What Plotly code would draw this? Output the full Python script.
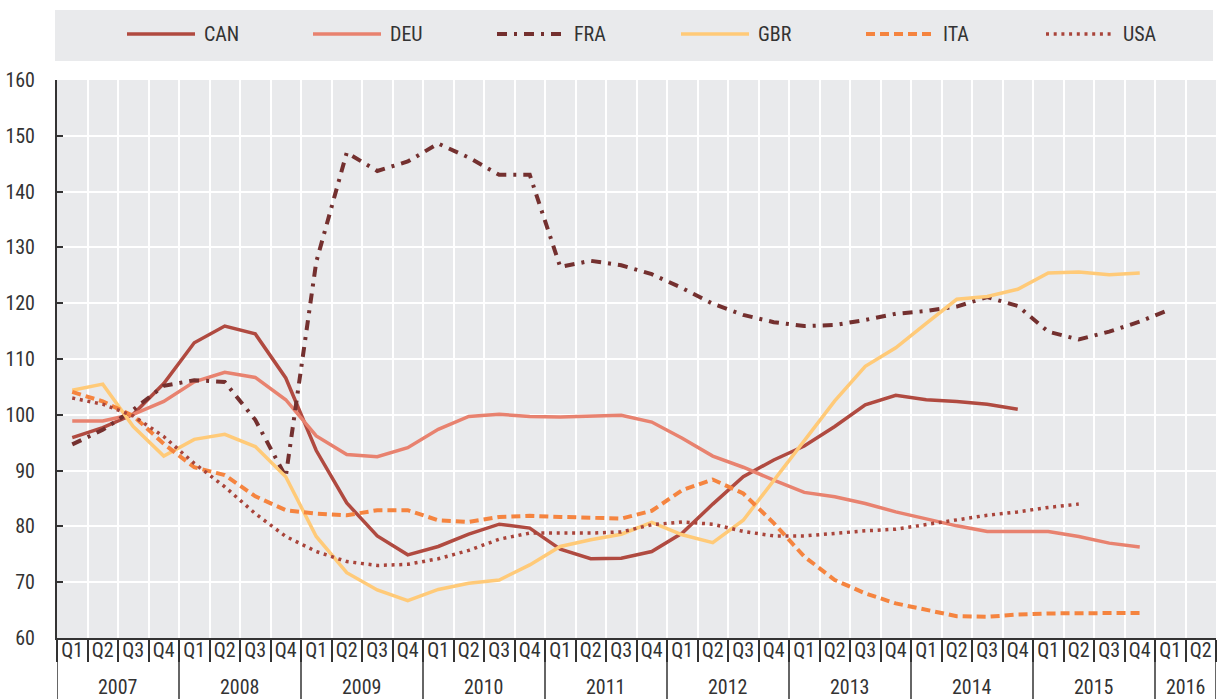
import plotly.graph_objects as go

# ---- data ----
quarters = ["Q1", "Q2", "Q3", "Q4"] * 9 + ["Q1", "Q2"]
years = ["2007", "2008", "2009", "2010", "2011", "2012", "2013", "2014", "2015", "2016"]

can = [95.9, 97.7, 100.1, 105.6,
       112.9, 115.9, 114.5, 106.6,
       93.6, 84.2, 78.3, 74.9,
       76.4, 78.6, 80.4, 79.7,
       75.9, 74.2, 74.3, 75.5,
       78.8, 84.0, 88.9, 91.9,
       94.4, 97.9, 101.8, 103.5,
       102.7, 102.4, 101.9, 101.0,
       None, None, None, None, None, None]
deu = [98.9, 98.9, 100.1, 102.4,
       105.9, 107.6, 106.7, 102.7,
       96.2, 92.9, 92.5, 94.1,
       97.4, 99.7, 100.1, 99.7,
       99.6, 99.8, 99.9, 98.7,
       95.8, 92.6, 90.6, 88.3,
       86.1, 85.3, 84.1, 82.6,
       81.4, 80.1, 79.1, 79.1,
       79.1, 78.2, 77.0, 76.3,
       None, None]
fra = [94.7, 97.3, 100.9, 105.2,
       106.2, 105.9, 99.1, 88.9,
       127.4, 147.0, 143.7, 145.4,
       148.6, 146.1, 143.0, 143.0,
       126.5, 127.6, 126.8, 125.2,
       122.7, 119.9, 117.9, 116.6,
       115.9, 116.1, 117.0, 118.1,
       118.6, 119.4, 121.1, 119.5,
       114.9, 113.5, 114.9, 116.7,
       118.9, None]
gbr = [104.4, 105.5, 97.9, 92.6,
       95.6, 96.5, 94.3, 88.9,
       78.2, 71.7, 68.6, 66.7,
       68.7, 69.8, 70.4, 73.1,
       76.4, 77.6, 78.6, 80.7,
       78.5, 77.1, 81.1, 88.3,
       95.5, 102.5, 108.7, 112.0,
       116.4, 120.7, 121.2, 122.5,
       125.4, 125.6, 125.1, 125.4,
       None, None]
ita = [104.1, 102.4, 99.8, 94.8,
       90.6, 89.2, 85.4, 82.9,
       82.3, 82.0, 82.9, 82.9,
       81.1, 80.8, 81.7, 81.9,
       81.7, 81.6, 81.4, 82.8,
       86.5, 88.4, 85.9, 80.6,
       74.6, 70.4, 68.0, 66.2,
       65.1, 63.9, 63.8, 64.2,
       64.4, 64.4, 64.4, 64.5,
       None, None]
usa = [103.0, 101.9, 99.8, 96.1,
       91.3, 87.1, 82.3, 78.2,
       75.5, 73.7, 73.0, 73.2,
       74.2, 75.7, 77.7, 78.8,
       78.8, 78.8, 79.0, 80.3,
       80.8, 80.4, 79.1, 78.3,
       78.3, 78.8, 79.2, 79.5,
       80.3, 81.1, 82.0, 82.6,
       83.4, 84.0,
       None, None, None, None]

series = [
    ("CAN", can, "#b04a40", "solid", 3.5),
    ("DEU", deu, "#e8826f", "solid", 3.5),
    ("FRA", fra, "#74302f", "10px,7px,3px,7px", 4),
    ("GBR", gbr, "#ffca78", "solid", 3.5),
    ("ITA", ita, "#f5843f", "9px,5px", 4),
    ("USA", usa, "#a9443a", "3px,4.7px", 3.5),
]

FONT = "Liberation Sans Narrow, Arial Narrow, Roboto Condensed, Liberation Sans, sans-serif"
TXT = "#333333"
BG = "#e9eaec"
FS = 20

x = list(range(len(quarters)))

fig = go.Figure()
for name, vals, color, dash, w in series:
    fig.add_trace(go.Scatter(x=x, y=vals, mode="lines", name=name,
                             line=dict(color=color, width=w, dash=dash),
                             connectgaps=False, showlegend=False))

# the page body margin is removed below, so the figure fills the window
W, H = 1219, 699
PLOT_L, PLOT_R, PLOT_T, PLOT_B = 57, 1216, 80, 638   # page pixels
ml, mr, mt, mb = PLOT_L, W - PLOT_R, PLOT_T, H - PLOT_B
ph = PLOT_B - PLOT_T
pw = PLOT_R - PLOT_L


def py(p):
    return (PLOT_B - p) / ph


def px(p):
    return (p - PLOT_L) / pw


shapes = []
annotations = []
# legend box
shapes.append(dict(type="rect", xref="paper", yref="paper",
                   x0=px(55), x1=px(1213), y0=py(61), y1=py(10),
                   fillcolor=BG, line=dict(width=0), layer="below"))
# legend keys (glyph line + label)
key_x = [127, 313, 497, 681, 866, 1046]
KEY_LEN = 68
KEY_Y = 34
for (name, vals, color, dash, w), kx in zip(series, key_x):
    shapes.append(dict(type="line", xref="paper", yref="paper",
                       x0=px(kx), x1=px(kx + KEY_LEN), y0=py(KEY_Y), y1=py(KEY_Y),
                       line=dict(color=color, width=w, dash=dash), layer="above"))
    annotations.append(dict(x=px(kx + KEY_LEN + 7), y=py(KEY_Y), xref="paper", yref="paper",
                            text=name, showarrow=False, xanchor="left", yanchor="middle",
                            font=dict(family=FONT, size=FS, color=TXT)))

# year dividers
bounds = [-0.5] + [3.5 + 4 * k for k in range(9)] + [37.5]
for b in bounds:
    shapes.append(dict(type="line", xref="x", yref="paper", x0=b, x1=b,
                       y0=0, y1=py(700), line=dict(color=TXT, width=1.5)))

for k, yr in enumerate(years):
    cx = 1.5 + 4 * k if k < 9 else 36.5
    annotations.append(dict(x=cx, y=py(687), xref="x", yref="paper", text=yr,
                            showarrow=False, yanchor="middle", xanchor="center",
                            font=dict(family=FONT, size=FS, color=TXT)))

fig.update_layout(
    width=W, height=H,
    margin=dict(l=ml, r=mr, t=mt, b=mb, pad=0),
    paper_bgcolor="white", plot_bgcolor=BG,
    font=dict(family=FONT, size=FS, color=TXT),
    showlegend=False,
    shapes=shapes,
    annotations=annotations,
    xaxis=dict(range=[-0.5, 37.5], tickmode="array", tickvals=x, ticktext=quarters,
               ticks="", showgrid=False, zeroline=False, showline=True, automargin=False,
               linecolor=TXT, linewidth=2, ticklabelstandoff=-7,
               tickfont=dict(family=FONT, size=FS, color=TXT),
               minor=dict(tickmode="array", tickvals=[i - 0.5 for i in range(len(x) + 1)],
                          ticks="outside", ticklen=22, tickcolor=TXT, tickwidth=1.5,
                          showgrid=True, gridcolor="white", gridwidth=2)),
    yaxis=dict(range=[60, 160], tickmode="linear", tick0=60, dtick=10,
               ticks="inside", ticklen=6, tickwidth=2, tickcolor=TXT, automargin=False,
               showline=True, linecolor=TXT, linewidth=2,
               showgrid=True, gridcolor="white", gridwidth=2, zeroline=False,
               tickfont=dict(family=FONT, size=FS, color=TXT),
               ticklabelstandoff=16),
)

fig.write_html("out.html",
               config={"displayModeBar": False},
               post_script="document.body.style.margin='0px';document.body.style.overflow='hidden';")
